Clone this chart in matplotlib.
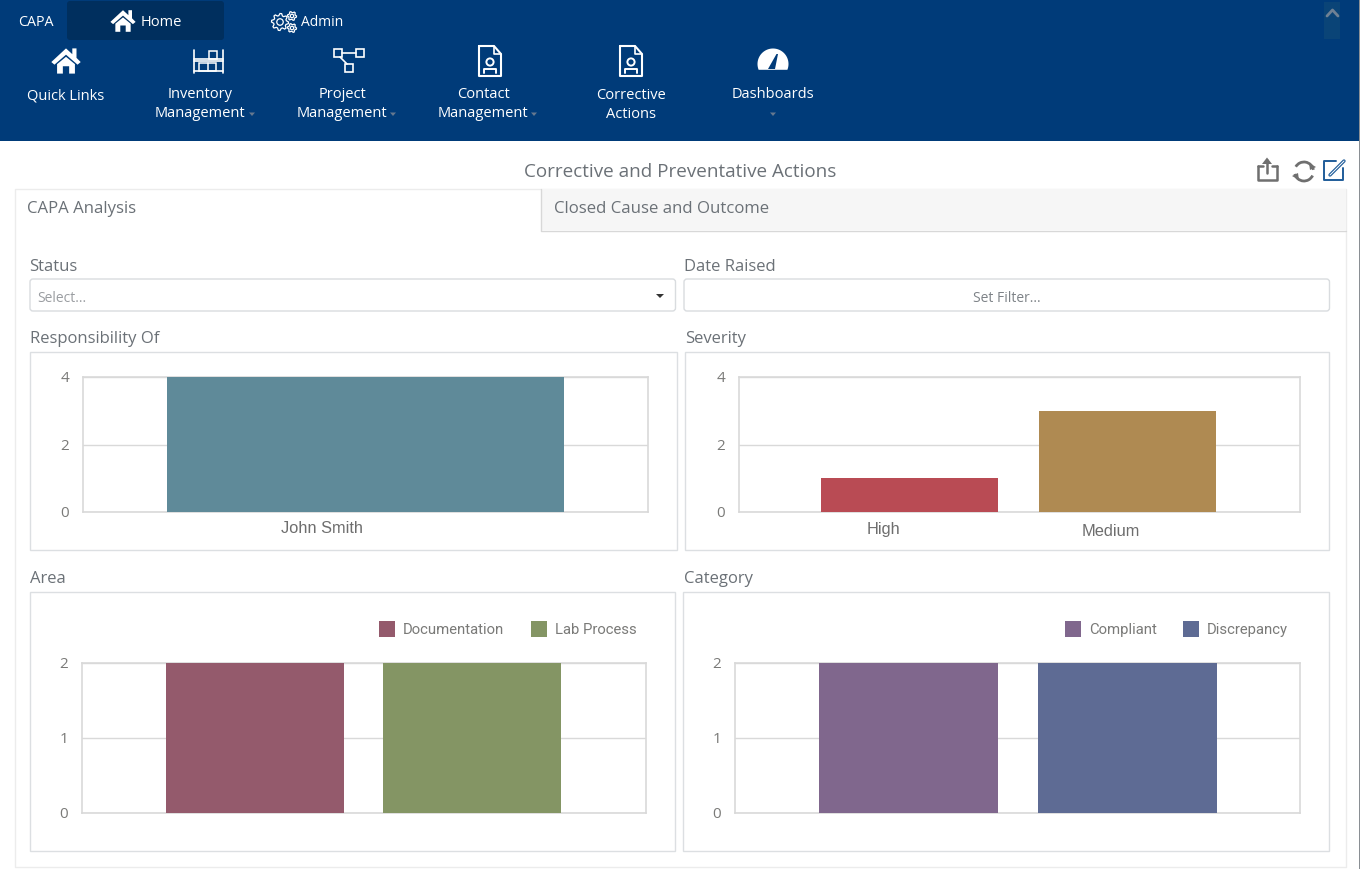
import matplotlib
matplotlib.use('Agg')
import matplotlib.pyplot as plt
from matplotlib.patches import Rectangle, FancyBboxPatch, Polygon, Circle, Arc
from matplotlib.lines import Line2D
from matplotlib.transforms import ScaledTranslation
import numpy as np

W, H = 1360, 870
UI = 'Open Sans'
GREY = '#6b7177'
TICK = '#7a7a78'

resp_cats = ['John Smith']
resp_vals = [4]
sev_cats = ['High', 'Medium']
sev_vals = [1, 3]
area_cats = ['Documentation', 'Lab Process']
area_vals = [2, 2]
cat_cats = ['Compliant', 'Discrepancy']
cat_vals = [2, 2]

resp_colors = ['#5f8a99']
sev_colors = ['#b94b54', '#af8a52']
area_colors = ['#945a6c', '#849564']
cat_colors = ['#80678d', '#5e6b94']

nav_top = ['Quick Links', 'Inventory\nManagement', 'Project\nManagement', 'Contact\nManagement', 'Corrective\nActions', 'Dashboards']

fig = plt.figure(figsize=(W/100, H/100), dpi=100, facecolor='white')
bg = fig.add_axes([0, 0, 1, 1], zorder=0)
bg.set_xlim(0, W); bg.set_ylim(H-1, -1); bg.axis('off')

def rect(x0, y0, x1, y1, fc='none', ec='none', lw=1, z=1, ax=bg):
    ax.add_patch(Rectangle((x0, y0), x1-x0, y1-y0, fc=fc, ec=ec, lw=lw, zorder=z))

def rrect(x0, y0, x1, y1, fc='white', ec='#d9dcdf', lw=1, z=2, r=3):
    bg.add_patch(FancyBboxPatch((x0+r, y0+r), x1-x0-2*r, y1-y0-2*r,
                                boxstyle=f'round,pad={r},rounding_size={r}', fc=fc, ec=ec, lw=lw, zorder=z))

def t(x, y, s, size=12, c=GREY, ha='left', fam=UI, **kw):
    bg.text(x, y+1, s, fontsize=size, color=c, ha=ha, va='center', family=fam, zorder=6, **kw)

def line(xs, ys, c='white', lw=1.5, z=5):
    bg.add_line(Line2D(xs, ys, color=c, lw=lw, zorder=z, solid_capstyle='round', solid_joinstyle='round'))

# header
NAVY = '#003b79'
rect(0, 0, W, 141, fc=NAVY)
rect(1359, 0, W, 870, fc='#8a8f94', z=7)
rrect(67, 1, 224, 40, fc='#002f5e', ec='none', r=3)
rect(1324, 2, 1340, 39, fc='#0a4477', z=2)
line([1327, 1332.5, 1338], [16, 10, 16], c='#6f8194', lw=2)

def house(cx, cy, s=1.0):
    bg.add_patch(Polygon([(cx-14*s, cy+1*s), (cx, cy-12*s), (cx+6*s, cy-6.5*s), (cx+6*s, cy-12*s), (cx+10*s, cy-12*s), (cx+10*s, cy-3*s),
                          (cx+14*s, cy+1*s), (cx+11*s, cy+3.5*s), (cx, cy-6*s), (cx-11*s, cy+3.5*s)],
                         fc='white', ec='none', zorder=5))
    bg.add_patch(Polygon([(cx-8.5*s, cy+3*s), (cx, cy-4*s), (cx+8.5*s, cy+3*s), (cx+8.5*s, cy+12*s), (cx+3*s, cy+12*s), (cx+3*s, cy+5*s),
                          (cx-3*s, cy+5*s), (cx-3*s, cy+12*s), (cx-8.5*s, cy+12*s)], fc='white', ec='none', zorder=5))

def doc(cx, cy):
    line([cx-11, cx+4, cx+11, cx+11, cx-11, cx-11], [cy-15, cy-15, cy-7, cy+15, cy+15, cy-15])
    line([cx+4, cx+4, cx+11], [cy-15, cy-7, cy-7], lw=1.2)
    bg.add_patch(Circle((cx, cy+1), 3.6, fc='none', ec='white', lw=1.4, zorder=5))
    line([cx-6, cx-6, cx+6, cx+6], [cy+12, cy+8, cy+8, cy+12], lw=1.4)

def gear(gx, gy, r, teeth):
    ang = np.linspace(0, 2*np.pi, teeth*4, endpoint=False)
    rad = np.where(np.arange(teeth*4) % 4 < 2, r, r*0.76)
    bg.add_patch(Polygon(np.c_[gx+rad*np.cos(ang), gy+rad*np.sin(ang)], fc='none', ec='white', lw=0.9, zorder=5))
    bg.add_patch(Circle((gx, gy), r*0.38, fc='none', ec='white', lw=0.9, zorder=5))

house(123, 21, 0.9)
house(66, 61, 1.05)
gear(280, 22, 8.5, 8); gear(292, 16, 4.5, 6); gear(292, 28, 4.5, 6)
# shelf icon
line([193.5, 193.5], [50, 73], lw=1.2); line([222.5, 222.5], [50, 73], lw=1.2)
line([193.5, 222.5], [59, 59], lw=1.2); line([193.5, 222.5], [61, 61], lw=1.2); line([193.5, 222.5], [71, 71], lw=1.2)
rect(199, 63, 216, 71, ec='white', lw=1.1, z=5)
line([207.5, 207.5], [63, 71], lw=1.1)
rect(209, 51, 217, 59, ec='white', lw=1.1, z=5)
# project icon
for bx, by in [(338, 53), (360, 53), (349, 68)]:
    rect(bx-4, by-4, bx+4, by+4, ec='white', lw=1.2, z=5)
line([342, 356], [53, 53], lw=1.2); line([340, 347], [57, 64], lw=1.2)
doc(490, 61); doc(631, 61)
# gauge icon
th = np.linspace(np.radians(-22), np.radians(202), 60)
bg.add_patch(Polygon(np.c_[773+15.5*np.cos(th), 64-15.5*np.sin(th)], fc='white', ec='none', zorder=5))
bg.add_patch(Polygon([(768, 69), (775, 69), (778, 54), (776.5, 54)], fc=NAVY, ec='none', zorder=6))

t(36, 20, 'CAPA', 10.3, 'white', ha='center')
t(161, 20, 'Home', 10.5, 'white', ha='center')
t(322.5, 21, 'Admin', 10, 'white', ha='center')
nav_x = [66, 200, 342, 483, 631, 773]
nav_y = [94, 102, 102, 102, 103, 93]
for s, x, y in zip(nav_top, nav_x, nav_y):
    bg.text(x, y+1, s, fontsize=10.5, color='white', ha='center', va='center', family=UI, linespacing=1.39, zorder=6)
for x, y in [(252, 114), (393, 114), (534, 114), (773, 114)]:
    bg.add_patch(Polygon([(x-3, y-1.5), (x+3, y-1.5), (x, y+2)], fc='#66788f', ec='none', zorder=6))

# title + tools
t(680, 170, 'Corrective and Preventative Actions', 13.6, ha='center')
line([1258, 1258, 1276.5, 1276.5], [166, 180, 180, 166], c='#6f6f6f', lw=1.8)
line([1258, 1263], [166, 166], c='#6f6f6f', lw=1.8); line([1271.5, 1276.5], [166, 166], c='#6f6f6f', lw=1.8)
line([1267, 1267], [173, 160], c='#6f6f6f', lw=1.8)
bg.add_patch(Polygon([(1262, 164), (1267, 157.5), (1272, 164)], fc='#6f6f6f', ec='none', zorder=5))
bg.add_patch(Arc((1304, 171.5), 19, 19, theta1=-150, theta2=-10, ec='#6f6f6f', lw=2, zorder=5))
bg.add_patch(Arc((1304, 171.5), 19, 19, theta1=25, theta2=165, ec='#6f6f6f', lw=2, zorder=5))
bg.add_patch(Polygon([(1309, 163), (1316, 167), (1310, 170)], fc='#6f6f6f', ec='none', zorder=5))
bg.add_patch(Polygon([(1299, 180), (1292, 176), (1298, 173)], fc='#6f6f6f', ec='none', zorder=5))
line([1336, 1323.5, 1323.5, 1342.5, 1342.5], [161, 161, 180, 180, 168], c='#1f5c99', lw=1.4)
line([1330, 1344], [175, 161], c='#1f5c99', lw=2.4)
line([1330, 1344], [175, 161], c='white', lw=0.7, z=6)

# tab card
rect(15, 189, 1345.5, 866.5, fc='white', ec='#ececec', lw=1, z=1)
rect(540.5, 189, 1345.5, 230, fc='#f6f6f6', z=2)
line([540.5, 540.5, 1345.5], [189, 230.5, 230.5], c='#d8d8d8', lw=1, z=3)
t(27, 207, 'CAPA Analysis', 12.1)
t(554, 207, 'Closed Cause and Outcome', 12.1)

# filters
t(29.5, 265, 'Status', 12)
t(684, 265, 'Date Raised', 12)
rrect(30, 279, 675.5, 311)
rrect(684, 279, 1329.5, 311)
t(37, 297, 'Select...', 10, '#9a9da1')
t(1007, 297, 'Set Filter...', 10, '#7d8287', ha='center')
bg.add_patch(Polygon([(656, 294), (664, 294), (660, 298)], fc='#333333', ec='none', zorder=6))

# panels
t(30, 337, 'Responsibility Of', 12)
t(685.5, 337, 'Severity', 12)
t(30, 577, 'Area', 12)
t(684, 577, 'Category', 12)
rect(30, 351.5, 677, 549.5, ec='#dcdfe2', z=2)
rect(685, 351.5, 1329, 549.5, ec='#dcdfe2', z=2)
rect(30, 591.5, 675, 850.5, ec='#dcdfe2', z=2)
rect(683, 591.5, 1329, 850.5, ec='#dcdfe2', z=2)

def chart(box, cats, vals, colors, yticks, xlim, width, labels=None, legend=None):
    x0, y0, x1, y1 = box
    ax = fig.add_axes([x0/W, 1-(y1+1)/H, (x1-x0)/W, (y1-y0)/H], zorder=3)
    ax.patch.set_alpha(0)
    ax.bar(range(len(cats)), vals, width=width, color=colors, zorder=3)
    ax.set_xlim(*xlim); ax.set_ylim(0, yticks[-1])
    ax.set_yticks(yticks)
    ax.set_xticks([])
    ax.tick_params(axis='y', length=0, pad=10, labelsize=11, labelcolor=TICK)
    up = ScaledTranslation(0, 1/100, fig.dpi_scale_trans)
    for lb in ax.get_yticklabels():
        lb.set_family(UI)
        lb.set_transform(lb.get_transform() + up)
    ax.grid(axis='y', color='#d9d9d9', lw=1, zorder=0)
    for s in ax.spines.values():
        s.set_color('#d9d9d9'); s.set_linewidth(1.2)
    if labels:
        for c, (lx, ly) in zip(cats, labels):
            t(lx, ly, c, 11.8, '#6e6e6e', ha='center', fam='Liberation Sans')
    if legend:
        for c, col, (sx, tx) in zip(cats, colors, legend):
            rect(sx, 621, sx+16, 637, fc=col, z=5)
            t(tx, 628, c, 10.7, TICK, fam='Roboto')
    return ax

chart((83, 377, 648, 512), resp_cats, resp_vals, resp_colors, [0, 2, 4], (-0.5, 0.5), 0.702, labels=[(322, 527)])
chart((739, 377, 1300, 512), sev_cats, sev_vals, sev_colors, [0, 2, 4], (-0.785, 1.793), 0.814, labels=[(883, 528), (1111, 530)])
chart((82, 663, 646, 813), area_cats, area_vals, area_colors, [0, 1, 2], (-0.795, 1.798), 0.818, legend=[(379, 403), (531, 555)])
chart((735, 663, 1300, 813), cat_cats, cat_vals, cat_colors, [0, 1, 2], (-0.792, 1.788), 0.817, legend=[(1065, 1089), (1183, 1207)])

fig.savefig('out.png', dpi=100, facecolor='white')
